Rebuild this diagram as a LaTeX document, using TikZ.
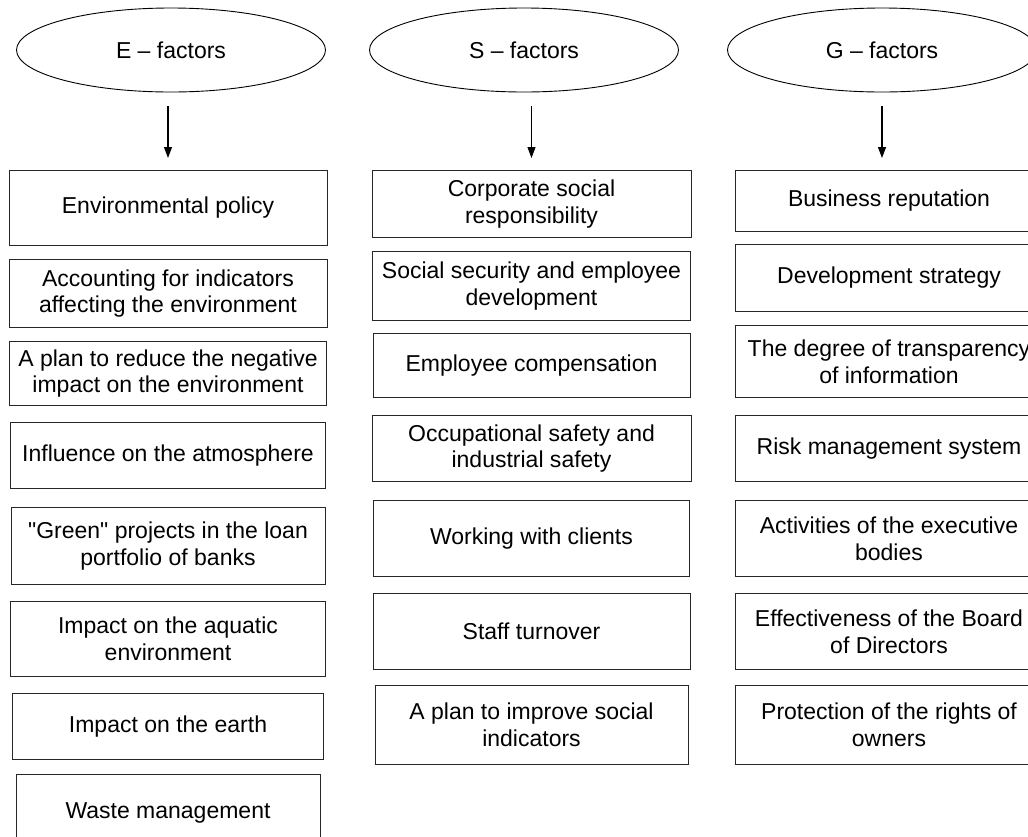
\documentclass[tikz,border=0pt]{standalone}
\usepackage{fontspec}
\setmainfont{Liberation Sans}
\usepackage{tikz}
\usetikzlibrary{arrows.meta,positioning,shapes.geometric}

\begin{document}
\begin{tikzpicture}[
    x=1pt, y=-1pt,
    font=\fontsize{23}{26.7}\selectfont,
    oval/.style={draw, ellipse, minimum width=309pt, minimum height=84pt, inner sep=0pt, line width=0.9pt},
    box/.style={draw=black!85, align=center, inner sep=0pt, minimum width=318pt, line width=1pt},
    arr/.style={-{Triangle[width=8pt,length=11pt]}, line width=1.1pt, shorten <=14pt, shorten >=12pt}
  ]
    \useasboundingbox (0,0) rectangle (1028,836);
    \clip (0,0) rectangle (1028,836);

    % factor groups
    \node[oval] (Eoval) at (171,50) {E \textendash{} factors};
    \node[oval] (Soval) at (524,50) {S \textendash{} factors};
    \node[oval] (Goval) at (882,50) {G \textendash{} factors};

    % E column
    \node[box, anchor=north, minimum height=75pt] (E1) at (168,170) {Environmental policy};
    \node[box, below=13pt of E1, minimum height=68pt] (E2) {Accounting for indicators\\affecting the environment};
    \node[box, below=13pt of E2, minimum width=317pt, minimum height=64pt] (E3) {A plan to reduce the negative\\impact on the environment};
    \node[box, below=16pt of E3, minimum width=315pt, minimum height=66pt] (E4) {Influence on the atmosphere};
    \node[box, below=18pt of E4, minimum width=314pt, minimum height=77pt] (E5) {\textquotedbl Green\textquotedbl{} projects in the loan\\portfolio of banks};
    \node[box, below=16pt of E5, minimum width=315pt, minimum height=75pt] (E6) {Impact on the aquatic\\environment};
    \node[box, below=16pt of E6, minimum width=311pt, minimum height=66pt] (E7) {Impact on the earth};
    \node[box, below=14pt of E7, minimum width=304pt, minimum height=76pt] (E8) {Waste management};

    % S column
    \node[box, anchor=north, minimum width=319pt, minimum height=67pt] (S1) at (531.5,170) {Corporate social\\responsibility};
    \node[box, below=13pt of S1, minimum height=69pt] (S2) {Social security and employee\\development};
    \node[box, below=12pt of S2, minimum width=317pt, minimum height=64pt] (S3) {Employee compensation};
    \node[box, below=17pt of S3, minimum width=319pt, minimum height=66pt] (S4) {Occupational safety and\\industrial safety};
    \node[box, below=18pt of S4, minimum width=316pt, minimum height=76pt] (S5) {Working with clients};
    \node[box, below=16pt of S5, minimum width=317pt, minimum height=76pt] (S6) {Staff turnover};
    \node[box, below=15pt of S6, minimum width=313pt, minimum height=79pt] (S7) {A plan to improve social\\indicators};

    % G column
    \node[box, anchor=north, minimum width=308pt, minimum height=61pt] (G1) at (889,170) {Business reputation};
    \node[box, below=12pt of G1, minimum width=308pt, minimum height=67pt] (G2) {Development strategy};
    \node[box, below=13pt of G2, minimum width=308pt, minimum height=72pt] (G3) {The degree of transparency\\of information};
    \node[box, below=17pt of G3, minimum width=308pt, minimum height=66pt] (G4) {Risk management system};
    \node[box, below=18pt of G4, minimum width=308pt, minimum height=76pt] (G5) {Activities of the executive\\bodies};
    \node[box, below=16pt of G5, minimum width=308pt, minimum height=76pt] (G6) {Effectiveness of the Board\\of Directors};
    \node[box, below=15pt of G6, minimum width=308pt, minimum height=79pt] (G7) {Protection of the rights of\\owners};

    \draw[arr] (Eoval.south -| E1.north) -- (E1.north);
    \draw[arr] (Soval.south -| S1.north) -- (S1.north);
    \draw[arr] (Goval.south) -- (Goval.south |- G1.north);
  \end{tikzpicture}
\end{document}
